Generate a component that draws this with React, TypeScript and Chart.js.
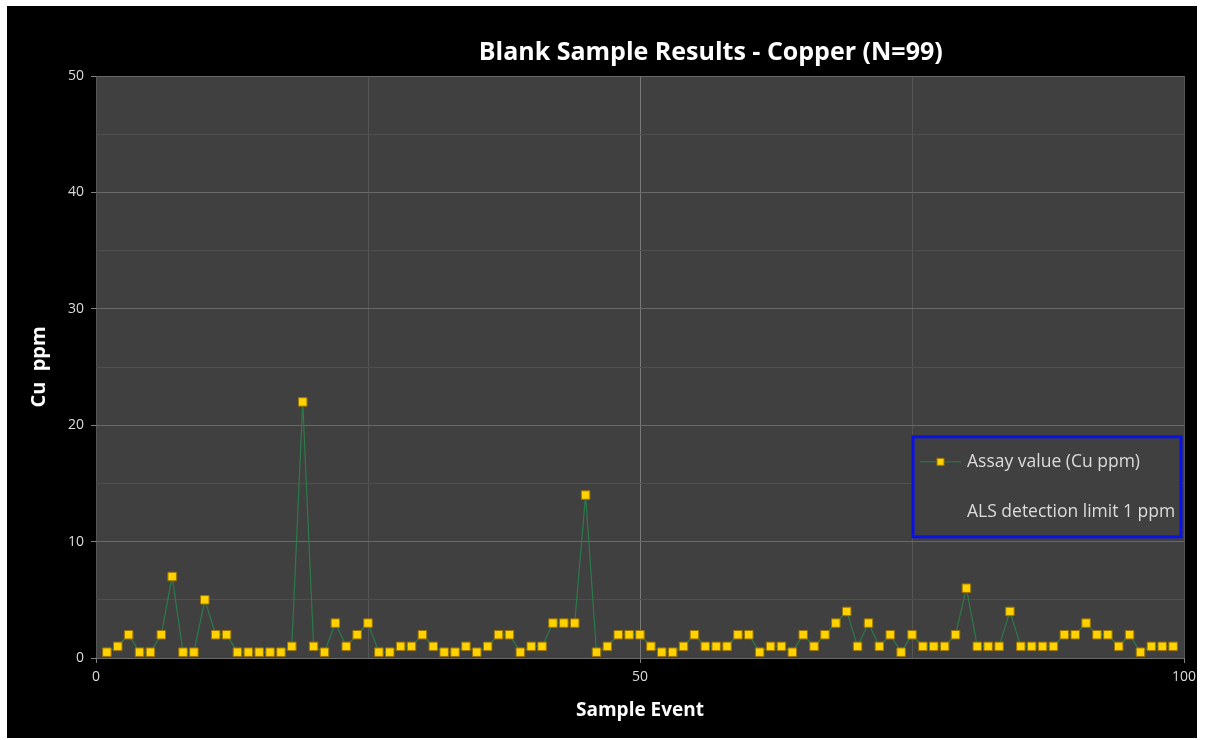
import React, { useEffect, useRef } from "react";
import { Chart, registerables } from "chart.js";

Chart.register(...registerables);

const chartTitle = "Blank Sample Results - Copper (N=99)";
const xAxisTitle = "Sample Event";
const yAxisTitle = "Cu  ppm";
const legendLabels = ["Assay value (Cu ppm)", "ALS detection limit 1 ppm"];

const sampleEvents = [
  1, 2, 3, 4, 5, 6, 7, 8, 9, 10,
  11, 12, 13, 14, 15, 16, 17, 18, 19, 20,
  21, 22, 23, 24, 25, 26, 27, 28, 29, 30,
  31, 32, 33, 34, 35, 36, 37, 38, 39, 40,
  41, 42, 43, 44, 45, 46, 47, 48, 49, 50,
  51, 52, 53, 54, 55, 56, 57, 58, 59, 60,
  61, 62, 63, 64, 65, 66, 67, 68, 69, 70,
  71, 72, 73, 74, 75, 76, 77, 78, 79, 80,
  81, 82, 83, 84, 85, 86, 87, 88, 89, 90,
  91, 92, 93, 94, 95, 96, 97, 98, 99,
];

const cuPpm = [
  0.5, 1, 2, 0.5, 0.5, 2, 7, 0.5, 0.5, 5,
  2, 2, 0.5, 0.5, 0.5, 0.5, 0.5, 1, 22, 1,
  0.5, 3, 1, 2, 3, 0.5, 0.5, 1, 1, 2,
  1, 0.5, 0.5, 1, 0.5, 1, 2, 2, 0.5, 1,
  1, 3, 3, 3, 14, 0.5, 1, 2, 2, 2,
  1, 0.5, 0.5, 1, 2, 1, 1, 1, 2, 2,
  0.5, 1, 1, 0.5, 2, 1, 2, 3, 4, 1,
  3, 1, 2, 0.5, 2, 1, 1, 1, 2, 6,
  1, 1, 1, 4, 1, 1, 1, 1, 2, 2,
  3, 2, 2, 1, 2, 0.5, 1, 1, 1,
];

const xTicks = [0, 50, 100];
const yTicks = [0, 10, 20, 30, 40, 50];

const FONT = "'Open Sans', 'Noto Sans', sans-serif";
const PLOT_BG = "#404040";
const LINE_COLOR = "#2b7a4b";
const POINT_FILL = "#ffd200";
const POINT_BORDER = "#9c7400";
const TEXT_GREY = "#dcdcdc";

const plotBgPlugin = {
  id: "plotBg",
  beforeDraw(chart: any) {
    const { ctx, chartArea: a } = chart;
    ctx.save();
    ctx.fillStyle = PLOT_BG;
    ctx.fillRect(a.left, a.top, a.right - a.left, a.bottom - a.top);
    ctx.restore();
  },
};

const titlePlugin = {
  id: "customTitle",
  afterDraw(chart: any) {
    const { ctx, chartArea: a } = chart;
    ctx.save();
    ctx.font = `bold 25px ${FONT}`;
    ctx.fillStyle = "#ffffff";
    ctx.textAlign = "center";
    ctx.textBaseline = "middle";
    ctx.fillText(chartTitle, a.left + (a.right - a.left) * 0.565, a.top - 23);
    ctx.restore();
  },
};

const legendPlugin = {
  id: "customLegend",
  afterDraw(chart: any) {
    const { ctx, chartArea: a } = chart;
    const w = 268;
    const h = 100;
    const left = a.right - 3 - w;
    const top = a.top + (a.bottom - a.top) * 0.62;
    ctx.save();
    ctx.fillStyle = PLOT_BG;
    ctx.fillRect(left, top, w, h);
    ctx.strokeStyle = "#0a10e8";
    ctx.lineWidth = 3;
    ctx.strokeRect(left, top, w, h);
    const y1 = top + 25;
    ctx.strokeStyle = LINE_COLOR;
    ctx.lineWidth = 1;
    ctx.beginPath();
    ctx.moveTo(left + 7, y1);
    ctx.lineTo(left + 48, y1);
    ctx.stroke();
    ctx.fillStyle = POINT_FILL;
    ctx.strokeStyle = POINT_BORDER;
    ctx.fillRect(left + 24, y1 - 3.5, 7, 7);
    ctx.strokeRect(left + 24, y1 - 3.5, 7, 7);
    ctx.font = `17.5px ${FONT}`;
    ctx.fillStyle = TEXT_GREY;
    ctx.textAlign = "left";
    ctx.textBaseline = "middle";
    ctx.fillText(legendLabels[0], left + 54, y1);
    ctx.fillText(legendLabels[1], left + 54, top + 75);
    ctx.restore();
  },
};

export default function App() {
  const canvasRef = useRef<HTMLCanvasElement | null>(null);

  useEffect(() => {
    if (!canvasRef.current) return;
    const chart = new Chart(canvasRef.current, {
      type: "line",
      data: {
        datasets: [
          {
            label: legendLabels[0],
            data: sampleEvents.map((x, i) => ({ x, y: cuPpm[i] })),
            borderColor: LINE_COLOR,
            borderWidth: 1.2,
            pointStyle: "rect",
            pointRadius: 6,
            pointBackgroundColor: POINT_FILL,
            pointBorderColor: POINT_BORDER,
            pointBorderWidth: 1,
            tension: 0,
          },
        ],
      },
      options: {
        responsive: false,
        animation: false,
        events: [],
        layout: { padding: { top: 70, right: 13, left: 0, bottom: 0 } },
        plugins: {
          legend: { display: false },
          title: { display: false },
          tooltip: { enabled: false },
        },
        scales: {
          x: {
            type: "linear",
            min: 0,
            max: 100,
            afterFit(scale: any) {
              scale.height = 80;
              scale.paddingLeft = 0;
              scale.paddingRight = 0;
            },
            ticks: {
              stepSize: 25,
              color: TEXT_GREY,
              font: { family: FONT, size: 14 },
              padding: 6,
              maxRotation: 0,
              callback: (v: any) => (xTicks.includes(Number(v)) ? String(v) : ""),
            },
            grid: {
              color: (c: any) => (c.tick && c.tick.value === 50 ? "#7a7a7a" : "#555555"),
              lineWidth: 1,
              tickLength: 5,
              tickColor: (c: any) => (c.tick && xTicks.includes(c.tick.value) ? "#808080" : "rgba(0,0,0,0)"),
            },
            border: { display: false },
            title: {
              display: true,
              text: xAxisTitle,
              color: "#ffffff",
              font: { family: FONT, size: 19, weight: "bold" },
              padding: { top: 0, bottom: 16 },
            },
          },
          y: {
            type: "linear",
            min: 0,
            max: 50,
            afterFit(scale: any) {
              scale.width = 89;
              scale.paddingTop = 0;
              scale.paddingBottom = 0;
            },
            ticks: {
              stepSize: 5,
              color: TEXT_GREY,
              font: { family: FONT, size: 14 },
              padding: 7,
              callback: (v: any) => (yTicks.includes(Number(v)) ? String(v) : ""),
            },
            grid: {
              color: (c: any) => (c.tick && yTicks.includes(c.tick.value) ? "#6a6a6a" : "#4f4f4f"),
              lineWidth: 1,
              tickLength: 5,
              tickColor: (c: any) => (c.tick && yTicks.includes(c.tick.value) ? "#808080" : "rgba(0,0,0,0)"),
            },
            border: { display: false },
            title: {
              display: true,
              text: yAxisTitle,
              color: "#ffffff",
              font: { family: FONT, size: 20, weight: "bold" },
              padding: { top: 20, bottom: 0 },
            },
          },
        },
      },
      plugins: [plotBgPlugin, titlePlugin, legendPlugin],
    });
    return () => chart.destroy();
  }, []);

  return (
    <div
      style={{
        position: "absolute",
        left: 7,
        top: 6,
        width: 1190,
        height: 732,
        background: "#000000",
      }}
    >
      <canvas ref={canvasRef} width={1190} height={732} style={{ display: "block", background: "#000000" }} />
    </div>
  );
}
